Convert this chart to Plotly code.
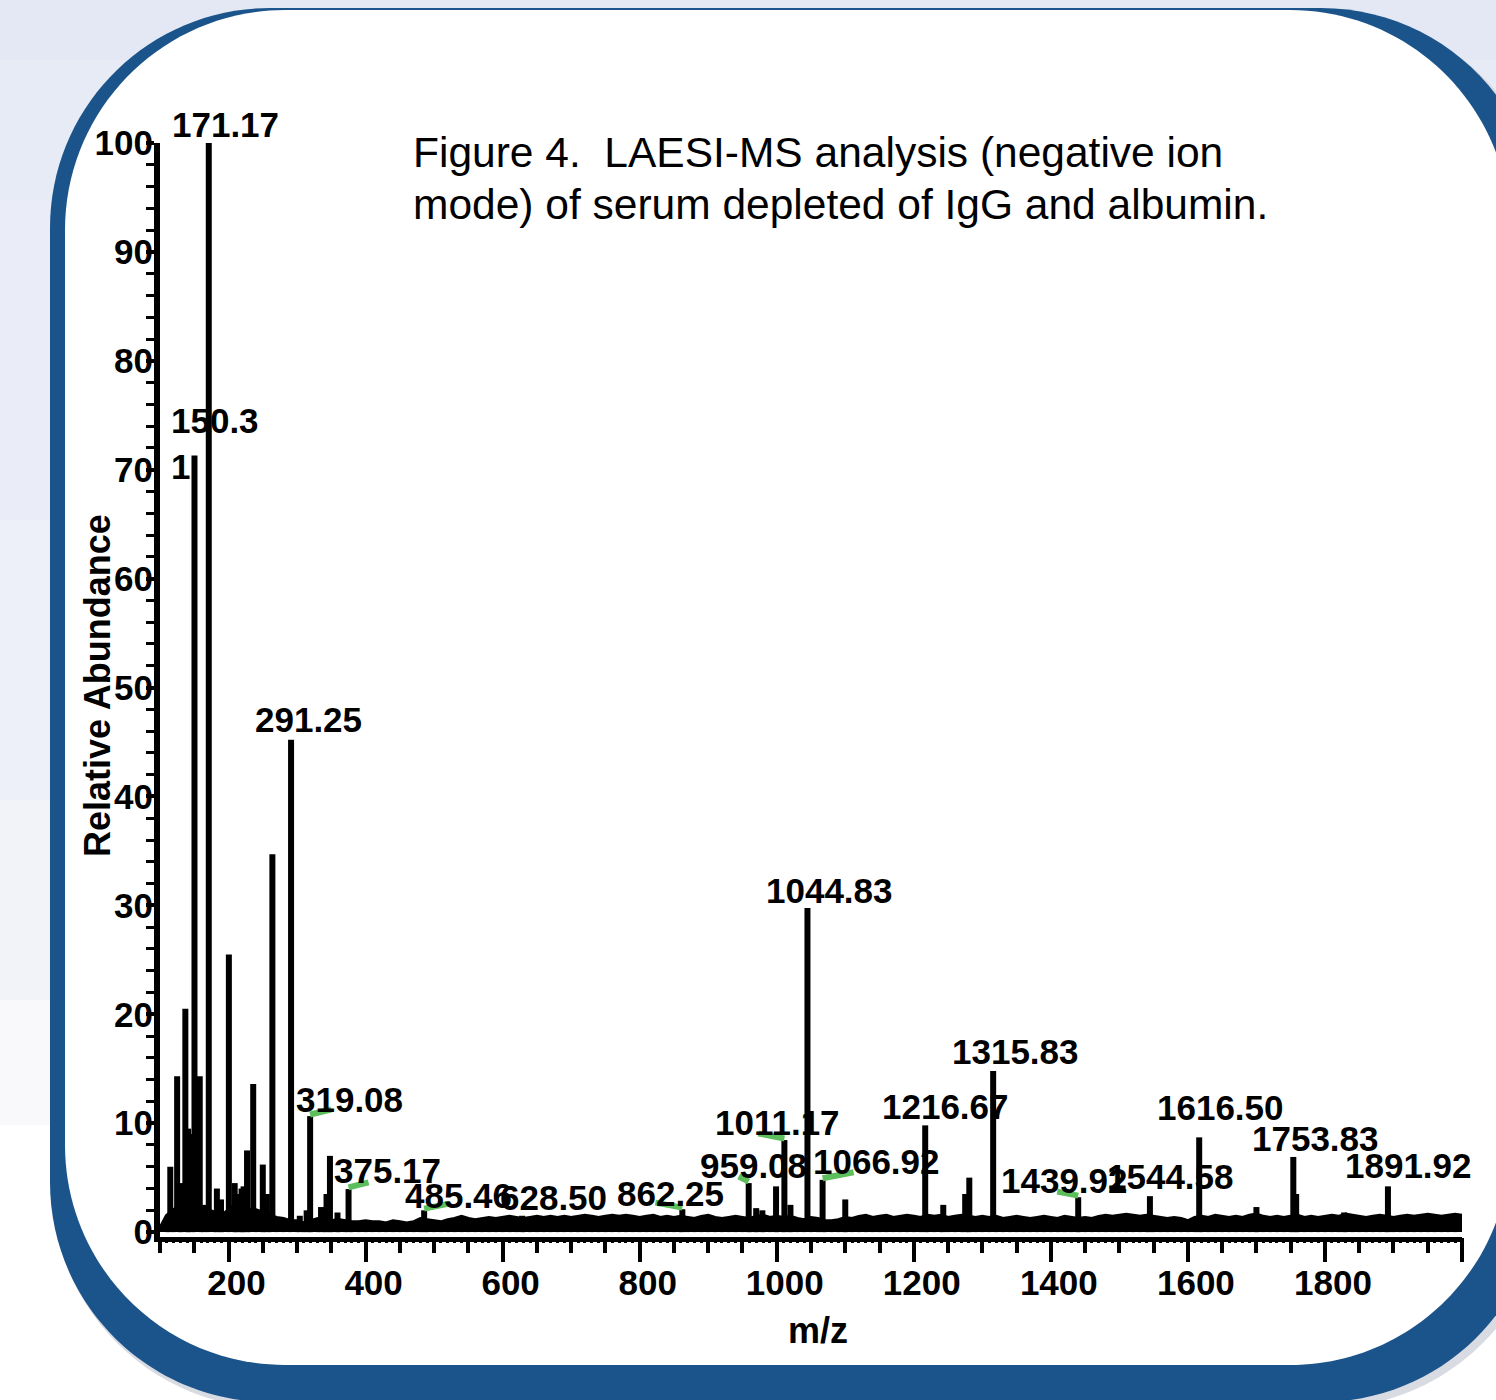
import plotly.graph_objects as go

W, H = 1496, 1400
ML, MR, MT, MB = 160, 34, 143, 163
PW, PH = W - ML - MR, H - MT - MB
XR = [100, 2000]
YR = [-0.45, 100]

# ---------------- data ----------------
# labelled peaks
label_mz = [171.17, 150.31, 291.25, 319.08, 375.17, 485.46, 628.50, 862.25,
            959.08, 1011.17, 1044.83, 1066.92, 1216.67, 1315.83, 1439.92,
            1544.58, 1616.50, 1753.83, 1891.92]
label_int = [100, 71.3, 45.2, 10.65, 3.95, 2.0, 1.5, 2.1,
             4.5, 8.45, 29.75, 4.8, 9.8, 14.8, 3.2,
             3.3, 8.7, 6.9, 4.2]
label_text = ["171.17", "150.3<br>1", "291.25", "319.08", "375.17", "485.46",
              "628.50", "862.25", "959.08", "1011.17", "1044.83", "1066.92",
              "1216.67", "1315.83", "1439.92", "1544.58", "1616.50",
              "1753.83", "1891.92"]

# other (unlabelled) peaks
peak_mz = [115, 125, 130, 137, 141, 145, 158, 164, 183, 189, 200.5, 209,
           213, 219, 222, 227, 236, 250, 256, 264, 304, 314, 335, 343, 348,
           359, 970, 979, 999, 1020, 1100, 1243, 1275, 1281, 1700, 1758, 1828]
peak_int = [6.0, 14.3, 4.5, 20.5, 9.5, 9.0, 14.3, 2.5, 4.0, 3.0, 25.5, 4.5,
            3.5, 4.0, 4.2, 7.5, 13.6, 6.2, 3.5, 34.7, 1.5, 2.0, 2.3, 3.5, 7.0,
            1.8, 2.2, 2.0, 4.2, 2.5, 3.0, 2.5, 3.5, 5.0, 2.3, 3.5, 1.8]

# baseline / chemical noise envelope, every 10 m/z from 100 to 2000
noise_mz = list(range(100, 2001, 10))
noise_int = [
    0.3,                                                  # 100
    1.5, 2.0, 2.5, 3.0, 2.5, 2.0, 2.0, 1.8, 1.5, 2.0,     # 110-200
    2.5, 2.5, 2.0, 2.0, 1.8, 1.5, 1.3, 1.2, 1.0, 1.0,     # 210-300
    0.8, 1.0, 1.2, 1.0, 1.0, 1.1, 1.0, 0.9, 0.9, 1.0,     # 310-400
    0.9, 0.9, 0.8, 1.0, 0.9, 0.8, 0.9, 1.2, 1.1, 1.0,     # 410-500
    0.9, 1.1, 1.2, 1.4, 1.2, 1.1, 1.2, 1.3, 1.2, 1.3,     # 510-600
    1.4, 1.3, 1.2, 1.3, 1.4, 1.3, 1.4, 1.3, 1.4, 1.3,     # 610-700
    1.4, 1.5, 1.4, 1.3, 1.4, 1.5, 1.4, 1.5, 1.4, 1.3,     # 710-800
    1.4, 1.5, 1.3, 1.4, 1.3, 1.4, 1.3, 1.2, 1.4, 1.5,     # 810-900
    1.3, 1.2, 1.3, 1.4, 1.3, 1.2, 1.4, 1.5, 1.3, 1.4,     # 910-1000
    1.3, 1.4, 1.2, 1.1, 1.3, 1.2, 1.0, 1.0, 1.1, 1.3,     # 1010-1100
    1.2, 1.4, 1.5, 1.3, 1.4, 1.5, 1.3, 1.4, 1.5, 1.4,     # 1110-1200
    1.3, 1.5, 1.4, 1.5, 1.3, 1.4, 1.5, 1.4, 1.3, 1.4,     # 1210-1300
    1.3, 1.4, 1.2, 1.3, 1.4, 1.3, 1.2, 1.3, 1.4, 1.3,     # 1310-1400
    1.2, 1.4, 1.3, 1.2, 1.3, 1.2, 1.4, 1.5, 1.4, 1.5,     # 1410-1500
    1.6, 1.5, 1.4, 1.5, 1.4, 1.3, 1.2, 1.3, 1.2, 1.0,     # 1510-1600
    1.3, 1.4, 1.3, 1.5, 1.4, 1.3, 1.4, 1.3, 1.5, 1.6,     # 1610-1700
    1.4, 1.3, 1.4, 1.3, 1.4, 1.5, 1.3, 1.4, 1.3, 1.4,     # 1710-1800
    1.5, 1.4, 1.6, 1.5, 1.4, 1.3, 1.4, 1.5, 1.4, 1.3,     # 1810-1900
    1.4, 1.5, 1.4, 1.5, 1.6, 1.5, 1.4, 1.5, 1.6, 1.5,     # 1910-2000
]

x_ticks = [200, 400, 600, 800, 1000, 1200, 1400, 1600, 1800, 2000]
y_ticks = [0, 10, 20, 30, 40, 50, 60, 70, 80, 90, 100]

# ---------------- styling helpers ----------------
FONT = "Liberation Sans, Arial, Helvetica, sans-serif"
BLUE = "#1b548b"
GREEN = "#5cbf5c"

# label offsets (pixels, relative to the peak top)
label_shift = [(17, 19), (-25, 12), (17, 20), (39, 17), (39, 19), (34, 15),
               (31, 18), (-12, 16), (5, 18), (-7, 18), (22, 18), (54, 18),
               (20, 19), (22, 19), (-14, 17), (21, 20), (21, 30), (22, 18),
               (21, 21)]
# green leader lines: label index -> (dx px, dy px) from the peak top
leaders = {3: (21, 5), 4: (20, 5), 5: (25, 5), 7: (-27, 5), 8: (-10, 5),
           9: (-26, 5), 11: (31, 6), 14: (-21, 4)}

PX_PER_MZ = PW / (XR[1] - XR[0])
PX_PER_INT = PH / (YR[1] - YR[0])


def px2paper(px, py):
    return (px - ML) / PW, 1 - (py - MT) / PH


def rr_path(x0, y0, x1, y1, r):
    k = 0.5523 * r
    pts = [("M", [(x0 + r, y0)]), ("L", [(x1 - r, y0)]),
           ("C", [(x1 - r + k, y0), (x1, y0 + r - k), (x1, y0 + r)]),
           ("L", [(x1, y1 - r)]),
           ("C", [(x1, y1 - r + k), (x1 - r + k, y1), (x1 - r, y1)]),
           ("L", [(x0 + r, y1)]),
           ("C", [(x0 + r - k, y1), (x0, y1 - r + k), (x0, y1 - r)]),
           ("L", [(x0, y0 + r)]),
           ("C", [(x0, y0 + r - k), (x0 + r - k, y0), (x0 + r, y0)])]
    s = ""
    for cmd, plist in pts:
        s += cmd + " " + " ".join("%.5f,%.5f" % px2paper(a, b) for a, b in plist) + " "
    return s + "Z"


def rect_shape(x0, y0, x1, y1, color):
    a = px2paper(x0, y0)
    b = px2paper(x1, y1)
    return dict(type="rect", xref="paper", yref="paper", x0=a[0], y0=a[1],
                x1=b[0], y1=b[1], fillcolor=color, line=dict(width=0),
                layer="below")


shapes = []
# page background bands
bands = [(0, 60, "#e4e8f4"), (60, 200, "#e7ebf5"), (200, 520, "#eaedf7"),
         (520, 800, "#edf0f9"), (800, 1000, "#f2f3f9"), (1000, 1125, "#f9f9fb"),
         (1125, 1400, "#ffffff")]
for y0, y1, c in bands:
    shapes.append(rect_shape(0, y0, W, y1, c))
# shadow, blue frame and white panel
shapes.append(dict(type="path", xref="paper", yref="paper",
                   path=rr_path(52, 12, 1548, 1408, 222),
                   fillcolor="#d9dbe3", line=dict(width=0), layer="below"))
shapes.append(dict(type="path", xref="paper", yref="paper",
                   path=rr_path(50, 8, 1541, 1402, 220),
                   fillcolor=BLUE, line=dict(width=0), layer="below"))
shapes.append(dict(type="path", xref="paper", yref="paper",
                   path=rr_path(65, 10, 1510, 1365, 220),
                   fillcolor="#ffffff", line=dict(width=0), layer="below"))

# ---------------- traces ----------------
stick_x, stick_y = [], []
for m, h in list(zip(peak_mz, peak_int)) + list(zip(label_mz, label_int)):
    stick_x += [m, m, None]
    stick_y += [0, h, None]

noise_x, noise_y = [], []
for m, h in zip(noise_mz, noise_int):
    noise_x += [m, m, None]
    noise_y += [0, h, None]

lead_x, lead_y = [], []
for i, (dxp, dyp) in leaders.items():
    m, h = label_mz[i], label_int[i] + 0.15
    lead_x += [m, m + dxp / PX_PER_MZ, None]
    lead_y += [h, h + dyp / PX_PER_INT, None]

fig = go.Figure()
fig.add_trace(go.Scatter(x=noise_mz, y=noise_int, mode="lines",
                         fill="tozeroy", fillcolor="#000000",
                         line=dict(color="#000000", width=4),
                         hoverinfo="skip", showlegend=False))
fig.add_trace(go.Scatter(x=noise_x, y=noise_y, mode="lines",
                         line=dict(color="#000000", width=4),
                         hoverinfo="skip", showlegend=False))
fig.add_trace(go.Scatter(x=stick_x, y=stick_y, mode="lines",
                         line=dict(color="#000000", width=6),
                         hoverinfo="skip", showlegend=False))
fig.add_trace(go.Scatter(x=lead_x, y=lead_y, mode="lines",
                         line=dict(color=GREEN, width=6),
                         hoverinfo="skip", showlegend=False))
# helper trace for the fine-tick overlay axis
fig.add_trace(go.Scatter(x=[XR[0]], y=[0], xaxis="x2", mode="markers",
                         marker=dict(opacity=0), hoverinfo="skip",
                         showlegend=False))

annotations = []
for i, (m, h, t) in enumerate(zip(label_mz, label_int, label_text)):
    dx, dy = label_shift[i]
    annotations.append(dict(x=m, y=h, xref="x", yref="y", text=t,
                            showarrow=False, xshift=dx, yshift=dy,
                            xanchor="left" if "<br>" in t else "center",
                            yanchor="middle", align="left",
                            font=dict(family=FONT, size=35, color="#000",
                                      weight="bold")))

tx, ty1 = px2paper(411, 153)
_, ty2 = px2paper(411, 204)
annotations.append(dict(x=tx, y=ty1, xref="paper", yref="paper",
                        text="Figure 4.\u00a0 LAESI-MS analysis (negative ion",
                        showarrow=False, xanchor="left", yanchor="middle",
                        font=dict(family=FONT, size=42.5, color="#000")))
annotations.append(dict(x=tx, y=ty2, xref="paper", yref="paper",
                        text="mode) of serum depleted of IgG and albumin.",
                        showarrow=False, xanchor="left", yanchor="middle",
                        font=dict(family=FONT, size=42.5, color="#000")))
mx, my = px2paper(818, 1330)
annotations.append(dict(x=mx, y=my, xref="paper", yref="paper", text="m/z",
                        showarrow=False, xanchor="center", yanchor="middle",
                        font=dict(family=FONT, size=36, color="#000",
                                  weight="bold")))
rx, ry = px2paper(97, 686)
annotations.append(dict(x=rx, y=ry, xref="paper", yref="paper",
                        text="Relative Abundance", textangle=-90,
                        showarrow=False, xanchor="center", yanchor="middle",
                        font=dict(family=FONT, size=36, color="#000",
                                  weight="bold")))

tickfont = dict(family=FONT, size=35, color="#000", weight="bold")
fig.update_layout(
    width=W, height=H,
    margin=dict(l=ML, r=MR, t=MT, b=MB, pad=0),
    paper_bgcolor="#ffffff", plot_bgcolor="rgba(0,0,0,0)",
    shapes=shapes, annotations=annotations,
    xaxis=dict(range=XR, tickmode="array", tickvals=x_ticks,
               ticktext=[str(v) for v in x_ticks],
               ticks="outside", ticklen=20, tickwidth=4, tickcolor="#000",
               showline=True, linewidth=5, linecolor="#000",
               showgrid=False, zeroline=False, tickfont=tickfont,
               ticklabelshift=8, ticklabelstandoff=-9,
               minor=dict(ticks="outside", dtick=50, tick0=0, ticklen=11,
                          tickwidth=4, tickcolor="#000", showgrid=False)),
    xaxis2=dict(range=XR, overlaying="x", anchor="y", side="bottom",
                ticks="outside", dtick=10, tick0=0, ticklen=5, tickwidth=3,
                tickcolor="#000", showticklabels=False, showline=False,
                showgrid=False, zeroline=False),
    yaxis=dict(range=YR, tickmode="array", tickvals=y_ticks,
               ticktext=[str(v) for v in y_ticks],
               ticks="outside", ticklen=8, tickwidth=4, tickcolor="#000",
               showline=True, linewidth=6, linecolor="#000",
               showgrid=False, zeroline=False, tickfont=tickfont,
               ticklabelstandoff=-14,
               minor=dict(ticks="outside", dtick=2, tick0=0, ticklen=8,
                          tickwidth=3, tickcolor="#000", showgrid=False)),
)

fig.write_html("out.html")
